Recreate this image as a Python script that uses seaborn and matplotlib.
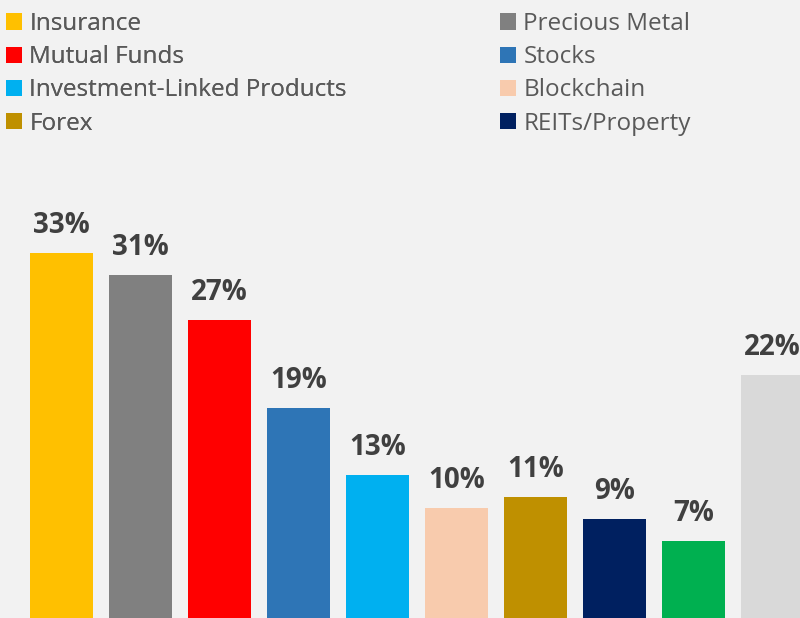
import matplotlib
matplotlib.use("Agg")
import matplotlib.pyplot as plt
from matplotlib.patches import Patch
import seaborn as sns
import pandas as pd

# Share of respondents holding each investment type (%)
categories = ["Insurance", "Precious Metal", "Mutual Funds", "Stocks",
              "Investment-Linked Products", "Blockchain", "Forex",
              "REITs/Property", "Others", "None"]
values = [33, 31, 27, 19, 13, 10, 11, 9, 7, 22]
colors = ["#FFC000", "#808080", "#FF0000", "#2E75B6", "#00B0F0",
          "#F8CBAD", "#BF9000", "#002060", "#00B050", "#D9D9D9"]
legend_left = ["Insurance", "Mutual Funds", "Investment-Linked Products", "Forex"]
legend_right = ["Precious Metal", "Stocks", "Blockchain", "REITs/Property"]

bg = "#F2F2F2"
sns.set_theme(style="white")
plt.rcParams["font.family"] = ["Open Sans", "DejaVu Sans"]

df = pd.DataFrame({"category": categories, "value": values})
palette = dict(zip(categories, colors))

fig = plt.figure(figsize=(8, 6.18), dpi=100, facecolor=bg)
ax = fig.add_axes([22 / 800, -0.5 / 618, 790 / 800, 442.8 / 618])
ax.set_facecolor(bg)

sns.barplot(data=df, x="category", y="value", hue="category",
            palette=palette, order=categories, hue_order=categories,
            width=0.8, saturation=1, legend=False, linewidth=0,
            edgecolor="none", ax=ax)

ax.set_xlim(-0.5, len(categories) - 0.5)
ax.set_ylim(0, 40)
ax.set_axis_off()

for i, v in enumerate(values):
    ax.annotate(f"{v}%", (i, v), xytext=(0, 14.4), textcoords="offset points",
                ha="center", va="baseline", fontsize=20, fontweight="bold",
                color="#404040", annotation_clip=False)

def make_legend(names, x_px):
    handles = [Patch(facecolor=palette[n], edgecolor="none", label=n) for n in names]
    leg = fig.legend(handles=handles, loc="upper left",
                     bbox_to_anchor=(x_px / 800, 1 - 12 / 618),
                     frameon=False, fontsize=17.5, labelcolor="#595959",
                     handlelength=0.66, handleheight=0.66, handletextpad=0.3,
                     labelspacing=0.38, borderpad=0, borderaxespad=0)
    return leg

leg1 = make_legend(legend_left, 6)
fig.add_artist(leg1)
make_legend(legend_right, 500)

fig.savefig("out.png", dpi=100, facecolor=bg)
